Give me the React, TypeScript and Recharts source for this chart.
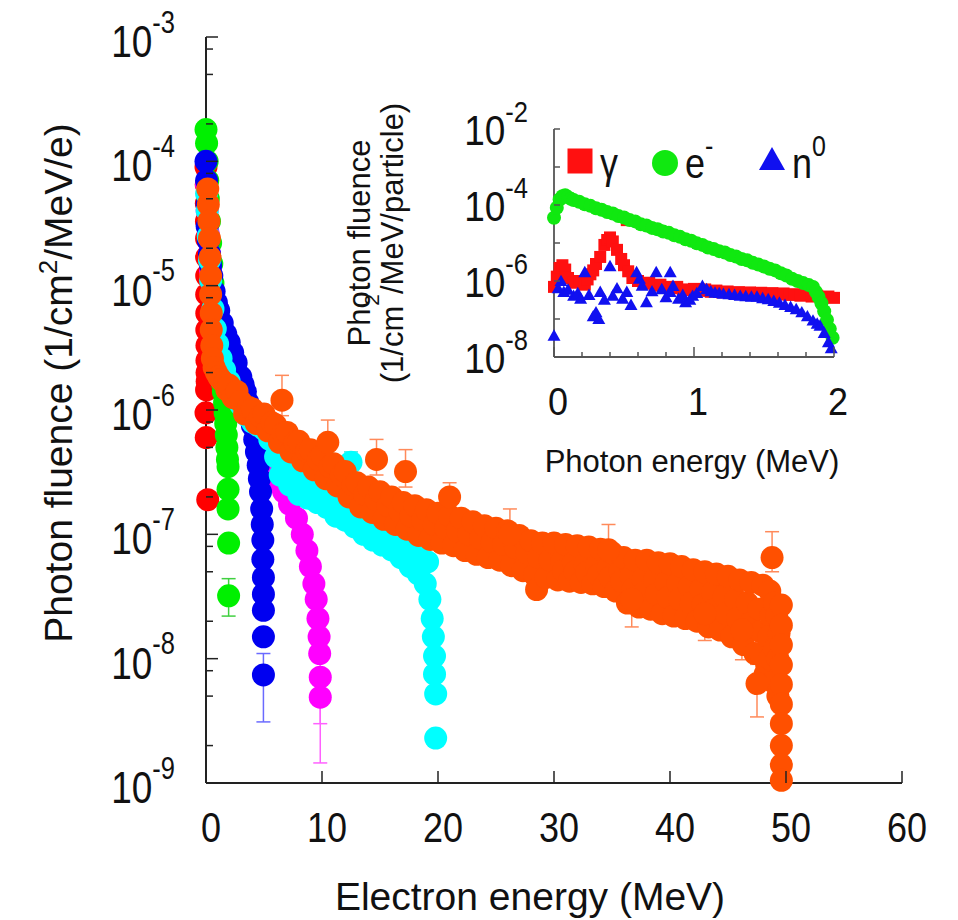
import React from "react";
import { ScatterChart, Scatter, XAxis, YAxis, ErrorBar, Legend } from "recharts";

type Pt = [number, number];
// energy, fluence, lower bound, upper bound
type ErrPt = [number, number, number, number];

const FONT = "'Liberation Sans', Arial, Helvetica, sans-serif";
const INK = "#111";
const AXIS = "#222";
const FRAME = "#555";

// ---- main plot: photon spectra per incident electron ----
const mainXTicks = [0, 10, 20, 30, 40, 50, 60];
const mainYDecades = [1e-9, 1e-8, 1e-7, 1e-6, 1e-5, 1e-4, 1e-3];

const redSpectrum: Pt[] = [
  [0.0, 9.0e-5], [0.02, 6.5e-5], [0.03, 4.6e-5], [0.04, 3.3e-5], [0.05, 2.4e-5],
  [0.05, 1.7e-5], [0.06, 1.2e-5], [0.06, 8.5e-6], [0.07, 6.0e-6], [0.07, 4.4e-6],
  [0.08, 3.3e-6], [0.08, 2.5e-6], [0.09, 2.0e-6], [0.1, 1.7e-6], [0.05, 1.45e-6],
  [0.0, 9.5e-7], [0.02, 6.0e-7], [0.15, 1.9e-7],
];

const greenSpectrum: Pt[] = [
  [0.0, 1.8e-4], [0.05, 1.4e-4], [0.1, 1.0e-4], [0.15, 7.0e-5], [0.2, 5.0e-5],
  [0.3, 3.3e-5], [0.4, 2.2e-5], [0.5, 1.5e-5], [0.6, 1.05e-5], [0.7, 7.5e-6],
  [0.8, 5.6e-6], [0.9, 4.3e-6], [1.0, 3.4e-6], [1.1, 2.8e-6], [1.2, 2.3e-6],
  [1.3, 1.95e-6], [1.4, 1.65e-6], [1.5, 1.4e-6], [1.6, 1.15e-6], [1.65, 9.5e-7],
  [1.7, 7.8e-7], [1.75, 6.3e-7], [1.8, 5.0e-7], [1.85, 4.0e-7], [1.9, 3.5e-7],
  [1.9, 2.3e-7], [1.9, 1.6e-7], [1.95, 8.5e-8],
];
const greenBars: ErrPt[] = [[1.95, 3.2e-8, 2.2e-8, 4.4e-8]];

const blueSpectrum: Pt[] = [
  [0.0, 1.0e-4], [0.05, 7.0e-5], [0.1, 4.5e-5], [0.1, 3.0e-5], [0.2, 2.3e-5],
  [0.3, 1.8e-5], [0.4, 1.45e-5], [0.5, 1.2e-5], [0.7, 9.0e-6], [0.9, 7.3e-6],
  [1.1, 6.3e-6], [1.4, 5.0e-6], [1.7, 4.1e-6], [2.0, 3.5e-6], [2.3, 2.9e-6],
  [2.6, 2.4e-6], [3.0, 1.85e-6], [3.2, 1.6e-6], [3.4, 1.4e-6], [3.6, 1.15e-6],
  [3.8, 9.2e-7], [4.0, 7.5e-7], [4.2, 5.8e-7], [4.35, 4.6e-7], [4.5, 3.6e-7],
  [4.6, 2.8e-7], [4.7, 2.2e-7], [4.8, 1.6e-7], [4.85, 1.2e-7], [4.9, 9.0e-8],
  [4.9, 6.3e-8], [4.95, 4.5e-8], [4.95, 3.3e-8], [4.95, 2.45e-8], [4.95, 1.5e-8],
];
const blueBars: ErrPt[] = [[4.95, 7.4e-9, 3.1e-9, 1.1e-8]];

const magentaSpectrum: Pt[] = [
  [0.05, 6.5e-5], [0.1, 4.0e-5], [0.2, 2.6e-5], [0.3, 1.8e-5], [0.4, 1.3e-5],
  [0.6, 8.5e-6], [0.8, 6.0e-6], [1.0, 4.5e-6], [1.3, 3.4e-6], [1.6, 2.7e-6],
  [2.0, 2.1e-6], [2.5, 1.6e-6], [3.0, 1.3e-6], [3.5, 1.0e-6], [4.0, 8.0e-7],
  [4.5, 6.2e-7], [5.0, 4.8e-7], [5.5, 3.8e-7], [6.0, 3.0e-7], [6.4, 2.5e-7],
  [6.7, 2.2e-7], [7.2, 1.75e-7], [7.8, 1.35e-7], [8.3, 1.0e-7], [8.7, 7.4e-8],
  [9.0, 5.5e-8], [9.3, 4.0e-8], [9.5, 3.0e-8], [9.65, 2.1e-8], [9.75, 1.5e-8],
  [9.8, 1.1e-8],
];
const magentaBars: ErrPt[] = [
  [9.85, 7.1e-9, 3.0e-9, 1.0e-8],
  [9.85, 4.9e-9, 1.45e-9, 1.2e-8],
];

const cyanSpectrum: Pt[] = [
  [0.05, 5.5e-5], [0.1, 4.0e-5], [0.2, 2.5e-5], [0.3, 1.6e-5], [0.4, 1.1e-5],
  [0.6, 6.5e-6], [0.8, 4.5e-6], [1.0, 3.4e-6], [1.3, 2.6e-6], [1.6, 2.1e-6],
  [2.0, 1.7e-6], [2.5, 1.35e-6], [3.0, 1.1e-6], [3.5, 9.0e-7], [4.0, 8.0e-7],
  [4.5, 7.5e-7], [5.0, 7.0e-7], [5.5, 5.8e-7], [6.0, 4.2e-7], [6.4, 3.0e-7],
  [6.8, 3.6e-7], [7.2, 2.5e-7], [7.6, 3.2e-7], [8.0, 2.1e-7], [8.4, 2.8e-7],
  [8.8, 1.95e-7], [9.2, 2.6e-7], [9.6, 1.8e-7], [10.0, 2.4e-7], [10.0, 4.5e-7],
  [10.4, 1.65e-7], [10.8, 2.2e-7], [11.2, 1.4e-7], [11.6, 2.0e-7], [12.0, 1.3e-7],
  [12.4, 1.8e-7], [12.8, 1.15e-7], [13.2, 1.6e-7], [13.6, 1.0e-7], [14.0, 1.45e-7],
  [14.4, 9.0e-8], [14.8, 1.3e-7], [15.2, 8.2e-8], [15.6, 1.15e-7], [16.0, 7.5e-8],
  [16.4, 1.0e-7], [16.8, 6.5e-8], [17.2, 9.0e-8], [17.6, 5.5e-8], [18.0, 7.5e-8],
  [18.3, 4.8e-8], [18.6, 6.2e-8], [18.9, 4.0e-8], [19.1, 6.0e-8], [19.3, 3.0e-8],
  [19.5, 2.1e-8], [19.6, 1.5e-8], [19.7, 1.05e-8], [19.7, 7.5e-9], [19.8, 5.2e-9],
  [19.8, 2.3e-9],
];
const cyanBars: ErrPt[] = [[12.5, 3.8e-7, 3.0e-7, 4.6e-7]];

const orangeSpectrum: Pt[] = [
  [0.15, 6.0e-5], [0.2, 4.5e-5], [0.25, 3.3e-5], [0.3, 2.4e-5], [0.35, 1.7e-5],
  [0.4, 1.2e-5], [0.4, 8.5e-6], [0.45, 6.0e-6], [0.45, 4.4e-6], [0.5, 3.3e-6],
  [0.55, 2.6e-6], [0.7, 2.2e-6], [0.9, 2.0e-6], [1.1, 1.85e-6], [1.3, 1.75e-6],
  [1.6, 1.65e-6], [1.8, 1.45e-6],
  [2, 1.58e-6], [2.33, 1.26e-6], [2.67, 1.41e-6],
  [3, 1.17e-6], [3.33, 9.3e-7], [3.67, 1.05e-6],
  [4, 1.02e-6], [4.33, 7.8e-7], [4.67, 8.9e-7],
  [5, 9.3e-7], [5.33, 6.8e-7], [5.67, 7.9e-7],
  [6, 7.6e-7], [6.33, 5.5e-7], [6.67, 6.5e-7],
  [7, 6.6e-7], [7.33, 4.6e-7], [7.67, 5.5e-7],
  [8, 5.6e-7], [8.33, 3.9e-7], [8.67, 4.7e-7],
  [9, 4.8e-7], [9.33, 3.3e-7], [9.67, 4.0e-7],
  [10, 4.3e-7], [10.33, 2.8e-7], [10.67, 3.5e-7],
  [11, 3.7e-7], [11.33, 2.45e-7], [11.67, 3.0e-7],
  [12, 3.2e-7], [12.33, 2.0e-7], [12.67, 2.5e-7],
  [13, 2.6e-7], [13.33, 1.66e-7], [13.67, 2.1e-7],
  [14, 2.4e-7], [14.33, 1.5e-7], [14.67, 1.9e-7],
  [15, 2.2e-7], [15.33, 1.32e-7], [15.67, 1.7e-7],
  [16, 2.0e-7], [16.33, 1.2e-7], [16.67, 1.55e-7],
  [17, 1.8e-7], [17.33, 1.1e-7], [17.67, 1.4e-7],
  [18, 1.7e-7], [18.33, 9.8e-8], [18.67, 1.3e-7],
  [19, 1.58e-7], [19.33, 9.1e-8], [19.67, 1.2e-7],
  [20, 1.48e-7], [20.33, 8.5e-8], [20.67, 1.12e-7],
  [21, 1.41e-7], [21.33, 8.1e-8], [21.67, 1.07e-7],
  [22, 1.35e-7], [22.33, 7.4e-8], [22.67, 1.0e-7],
  [23, 1.26e-7], [23.33, 6.9e-8], [23.67, 9.3e-8],
  [24, 1.17e-7], [24.33, 6.5e-8], [24.67, 8.7e-8],
  [25, 1.12e-7], [25.33, 6.2e-8], [25.67, 8.3e-8],
  [26, 1.07e-7], [26.33, 5.6e-8], [26.67, 7.8e-8],
  [27, 9.8e-8], [27.33, 5.1e-8], [27.67, 7.1e-8],
  [28, 8.9e-8], [28.33, 4.7e-8], [28.5, 3.6e-8], [28.67, 6.5e-8],
  [29, 8.5e-8], [29.33, 4.5e-8], [29.67, 6.2e-8],
  [30, 8.5e-8], [30.33, 4.3e-8], [30.67, 6.0e-8], [30.83, 5.1e-8],
  [31, 8.3e-8], [31.33, 4.2e-8], [31.67, 5.9e-8], [31.83, 5.0e-8],
  [32, 8.1e-8], [32.33, 4.1e-8], [32.67, 5.8e-8], [32.83, 4.9e-8],
  [33, 7.9e-8], [33.33, 4.0e-8], [33.67, 5.6e-8], [33.83, 4.7e-8],
  [34, 7.6e-8], [34.33, 3.8e-8], [34.67, 5.4e-8], [34.83, 4.5e-8],
  [35, 7.1e-8], [35.33, 3.5e-8], [35.67, 5.0e-8], [35.83, 4.2e-8],
  [36, 6.5e-8], [36.33, 2.8e-8], [36.67, 4.6e-8], [36.83, 3.6e-8],
  [37, 6.2e-8], [37.33, 2.6e-8], [37.67, 4.4e-8], [37.83, 3.4e-8],
  [38, 6.2e-8], [38.33, 2.5e-8], [38.67, 4.3e-8], [38.83, 3.3e-8],
  [39, 5.9e-8], [39.33, 2.3e-8], [39.67, 4.1e-8], [39.83, 3.1e-8],
  [40, 5.8e-8], [40.33, 2.2e-8], [40.67, 4.0e-8], [40.83, 3.0e-8],
  [41, 5.5e-8], [41.33, 2.1e-8], [41.67, 3.8e-8], [41.83, 2.8e-8],
  [42, 5.2e-8], [42.33, 2.0e-8], [42.67, 3.6e-8], [42.83, 2.7e-8],
  [43, 5.0e-8], [43.33, 1.8e-8], [43.67, 3.4e-8], [43.83, 2.5e-8],
  [44, 4.8e-8], [44.33, 1.7e-8], [44.67, 3.2e-8], [44.83, 2.3e-8],
  [45, 4.6e-8], [45.33, 1.5e-8], [45.67, 3.0e-8], [45.83, 2.1e-8],
  [46, 4.3e-8], [46.33, 1.3e-8], [46.67, 2.8e-8], [46.83, 1.9e-8],
  [47, 4.1e-8], [47.33, 1.1e-8], [47.67, 2.5e-8], [47.83, 1.65e-8],
  [48, 3.9e-8], [48.33, 9.0e-9], [48.67, 2.2e-8], [48.83, 1.4e-8],
  [47.8, 1.1e-8], [48.2, 7.5e-9], [48.5, 1.5e-8], [48.6, 1.0e-8],
  [48.9, 6.5e-9], [49.0, 1.2e-8],
  [48.6, 3.5e-8], [49.0, 2.8e-8], [49.2, 2.2e-8], [49.4, 1.6e-8],
  [49.3, 1.0e-8], [49.3, 5.0e-9],
  [49.6, 2.7e-8], [49.6, 1.86e-8], [49.6, 1.29e-8], [49.6, 8.9e-9], [49.6, 6.2e-9],
  [49.6, 4.3e-9], [49.6, 3.0e-9], [49.6, 2.0e-9], [49.6, 1.4e-9], [49.6, 1.05e-9],
];
const orangeBars: ErrPt[] = [
  [6.55, 1.2e-6, 9.0e-7, 1.9e-6],
  [10.5, 5.5e-7, 4.0e-7, 8.3e-7],
  [14.7, 4.0e-7, 3.0e-7, 5.8e-7],
  [17.2, 3.2e-7, 2.4e-7, 4.8e-7],
  [21.0, 2.0e-7, 1.5e-7, 2.6e-7],
  [26.2, 1.0e-7, 8.0e-8, 1.6e-7],
  [34.7, 7.5e-8, 6.0e-8, 1.2e-7],
  [36.7, 3.0e-8, 1.8e-8, 3.6e-8],
  [43.0, 2.3e-8, 1.4e-8, 2.8e-8],
  [46.2, 1.7e-8, 9.8e-9, 2.1e-8],
  [47.5, 6.3e-9, 3.4e-9, 9.0e-9],
  [48.8, 6.5e-8, 5.0e-8, 1.05e-7],
];

// ---- inset: photon spectra by particle type ----
const insetXTicks = [0, 0.2, 0.4, 0.6, 0.8, 1, 1.2, 1.4, 1.6, 1.8, 2];
const insetYDecades = [1e-8, 1e-7, 1e-6, 1e-5, 1e-4, 1e-3, 1e-2];
const insetNames = ["γ", "e-", "n0"];

const gammaSpectrum: Pt[] = [
  [0.0, 7.0e-7], [0.02, 1.3e-6], [0.04, 2.2e-6], [0.06, 2.6e-6], [0.08, 2.0e-6],
  [0.1, 1.2e-6], [0.14, 9.0e-7], [0.18, 1.0e-6], [0.22, 8.0e-7], [0.24, 1.1e-6],
  [0.26, 1.5e-6], [0.28, 1.9e-6], [0.3, 2.8e-6], [0.33, 4.3e-6], [0.36, 8.9e-6],
  [0.38, 1.2e-5], [0.4, 1.4e-5], [0.42, 1.1e-5], [0.45, 6.6e-6], [0.48, 3.8e-6],
  [0.5, 2.6e-6], [0.52, 4.0e-5], [0.53, 1.8e-6], [0.56, 1.2e-6], [0.6, 1.0e-6],
  [0.64, 8.5e-7], [0.68, 9.0e-7], [0.72, 7.5e-7], [0.76, 8.0e-7], [0.8, 7.0e-7],
  [0.84, 6.5e-7], [0.88, 7.0e-7], [0.92, 6.0e-7], [0.96, 5.8e-7], [1.0, 6.2e-7],
  [1.04, 5.5e-7], [1.08, 6.0e-7], [1.12, 5.2e-7], [1.16, 5.6e-7], [1.2, 5.0e-7],
  [1.24, 5.3e-7], [1.28, 4.8e-7], [1.32, 5.1e-7], [1.36, 4.7e-7], [1.4, 5.0e-7],
  [1.44, 4.6e-7], [1.48, 4.9e-7], [1.52, 4.5e-7], [1.56, 4.8e-7], [1.6, 4.4e-7],
  [1.64, 4.7e-7], [1.68, 4.3e-7], [1.72, 4.5e-7], [1.76, 4.1e-7], [1.8, 4.3e-7],
  [1.84, 3.9e-7], [1.88, 4.1e-7], [1.92, 3.7e-7], [1.96, 3.9e-7], [2.0, 3.6e-7],
];

const electronSpectrum: Pt[] = [
  [0.0, 4.6e-5], [0.02, 8.5e-5], [0.04, 1.4e-4], [0.06, 1.7e-4], [0.08, 1.8e-4],
  [0.1, 1.6e-4], [0.12, 1.45e-4], [0.14, 1.35e-4], [0.18, 1.22e-4], [0.22, 1.05e-4],
  [0.26, 9.5e-5], [0.3, 8.2e-5], [0.34, 7.5e-5], [0.38, 6.5e-5], [0.42, 6.0e-5],
  [0.46, 5.1e-5], [0.5, 4.7e-5], [0.54, 4.0e-5], [0.58, 3.7e-5], [0.62, 3.1e-5],
  [0.66, 2.9e-5], [0.7, 2.5e-5], [0.74, 2.3e-5], [0.78, 2.0e-5], [0.82, 1.85e-5],
  [0.86, 1.6e-5], [0.9, 1.45e-5], [0.94, 1.25e-5], [0.98, 1.15e-5], [1.02, 9.8e-6],
  [1.06, 8.9e-6], [1.1, 7.6e-6], [1.14, 7.0e-6], [1.18, 6.1e-6], [1.22, 5.6e-6],
  [1.26, 4.8e-6], [1.3, 4.4e-6], [1.34, 3.8e-6], [1.38, 3.5e-6], [1.42, 3.0e-6],
  [1.46, 2.7e-6], [1.5, 2.4e-6], [1.54, 2.1e-6], [1.58, 1.9e-6], [1.62, 1.6e-6],
  [1.66, 1.4e-6], [1.7, 1.15e-6], [1.74, 1.0e-6], [1.78, 8.8e-7], [1.82, 7.8e-7],
  [1.85, 7.0e-7], [1.87, 5.2e-7], [1.89, 3.8e-7], [1.91, 2.6e-7], [1.93, 1.6e-7],
  [1.95, 9.5e-8], [1.97, 5.5e-8], [1.99, 3.2e-8],
];

const neutronSpectrum: Pt[] = [
  [0.0, 3.4e-8], [0.03, 6.0e-7], [0.05, 9.3e-7], [0.07, 4.8e-7], [0.1, 5.5e-7],
  [0.14, 3.8e-7], [0.17, 4.5e-7], [0.19, 3.2e-7], [0.22, 1.6e-6], [0.25, 4.0e-7],
  [0.28, 1.1e-7], [0.3, 1.4e-7], [0.32, 9.3e-8], [0.33, 4.8e-7], [0.36, 3.0e-7],
  [0.4, 2.3e-6], [0.42, 3.8e-7], [0.45, 6.0e-7], [0.49, 3.2e-7], [0.52, 4.8e-7],
  [0.55, 2.2e-7], [0.59, 1.6e-6], [0.61, 1.07e-6], [0.63, 7.0e-7], [0.66, 2.6e-7],
  [0.7, 5.0e-7], [0.73, 1.6e-6], [0.77, 5.7e-7], [0.8, 3.5e-7], [0.83, 1.6e-6],
  [0.83, 4.8e-7], [0.85, 6.9e-7], [0.89, 3.2e-7], [0.92, 4.0e-7], [0.94, 2.6e-7],
  [0.97, 3.0e-7], [0.99, 3.8e-7], [1.02, 4.5e-7], [1.06, 6.9e-7], [1.09, 5.7e-7],
  [1.12, 5.0e-7], [1.15, 4.6e-7], [1.18, 4.5e-7], [1.21, 4.3e-7], [1.25, 4.2e-7],
  [1.29, 4.0e-7], [1.33, 3.8e-7], [1.37, 3.7e-7], [1.41, 3.6e-7], [1.45, 3.6e-7],
  [1.49, 3.3e-7], [1.53, 3.1e-7], [1.57, 2.8e-7], [1.61, 2.5e-7], [1.65, 2.2e-7],
  [1.69, 1.95e-7], [1.73, 1.7e-7], [1.77, 1.4e-7], [1.81, 1.1e-7], [1.85, 8.5e-8],
  [1.88, 7.0e-8], [1.9, 6.2e-8], [1.93, 4.0e-8], [1.96, 2.3e-8], [1.98, 1.6e-8],
];

// ---- helpers ----
const toRows = (pts: Pt[], bars: ErrPt[] = []) => [
  ...pts.map(([e, phi]) => ({ e, phi })),
  ...bars.map(([e, phi, lo, hi]) => ({ e, phi, err: [phi - lo, hi - phi] })),
];

const withMinors = (decades: number[]) => [
  ...decades,
  ...decades.slice(0, -1).flatMap((d) => [2 * d, 5 * d, 8 * d]),
];

const isDecade = (v: number) =>
  Math.abs(Math.log10(v) - Math.round(Math.log10(v))) < 1e-6;
const exponent = (v: number) => Math.round(Math.log10(v));

const dot = (r: number, fill: string) => (p: any) =>
  p.cx == null ? <g /> : <circle cx={p.cx} cy={p.cy} r={r} fill={fill} />;
const square = (s: number, fill: string) => (p: any) =>
  p.cx == null ? <g /> : <rect x={p.cx - s / 2} y={p.cy - s / 2} width={s} height={s} fill={fill} />;
const triangle = (s: number, fill: string) => (p: any) =>
  p.cx == null ? (
    <g />
  ) : (
    <polygon
      points={`${p.cx},${p.cy - s * 0.58} ${p.cx - s / 2},${p.cy + s * 0.3} ${p.cx + s / 2},${p.cy + s * 0.3}`}
      fill={fill}
    />
  );

function Power({ x, y, exp, size, stretch }: { x: number; y: number; exp: number; size: number; stretch: number }) {
  return (
    <text
      transform={`translate(${x},${y}) scale(1,${stretch})`}
      textAnchor="end"
      fontFamily={FONT}
      fontSize={size}
      fill={INK}
    >
      10
      <tspan dy={-size * 0.55} fontSize={size * 0.69}>
        {exp}
      </tspan>
    </text>
  );
}

// ---- main axis ticks (drawn inward) ----
function MainLeftTick({ x, y, payload }: any) {
  const major = isDecade(payload.value);
  return (
    <g>
      <line x1={x} x2={x + (major ? 12 : 7)} y1={y} y2={y} stroke={AXIS} strokeWidth={1.5} />
      {major && <Power x={x - 31} y={y + 20} exp={exponent(payload.value)} size={37} stretch={1.2} />}
    </g>
  );
}

function MainRightTick({ x, y, payload }: any) {
  const major = isDecade(payload.value);
  return <line x1={x} x2={x - (major ? 12 : 7)} y1={y} y2={y} stroke={FRAME} strokeWidth={1.5} />;
}

function MainBottomTick({ x, y, payload }: any) {
  return (
    <g>
      <line x1={x} x2={x} y1={y} y2={y - 12} stroke={AXIS} strokeWidth={1.5} />
      <text
        transform={`translate(${x + 5},${y + 59}) scale(1,1.2)`}
        textAnchor="middle"
        fontFamily={FONT}
        fontSize={36}
        fill={INK}
      >
        {payload.value}
      </text>
    </g>
  );
}

function MainTopTick({ x, y }: any) {
  return <line x1={x} x2={x} y1={y} y2={y + 12} stroke={FRAME} strokeWidth={1.5} />;
}

function MainXTitle({ viewBox }: any) {
  return (
    <text
      x={viewBox.x + viewBox.width / 2 - 24}
      y={viewBox.y + 127}
      textAnchor="middle"
      fontFamily={FONT}
      fontSize={39}
      fill={INK}
    >
      Electron energy (MeV)
    </text>
  );
}

function MainYTitle({ viewBox }: any) {
  const x = viewBox.x + 16;
  const y = viewBox.y + viewBox.height / 2 - 27;
  return (
    <text
      x={x}
      y={y}
      transform={`rotate(-90, ${x}, ${y})`}
      textAnchor="middle"
      fontFamily={FONT}
      fontSize={39}
      fill={INK}
    >
      Photon fluence (1/cm
      <tspan dy={-15} fontSize={26}>
        2
      </tspan>
      <tspan dy={15}>/MeV/e)</tspan>
    </text>
  );
}

// ---- inset axis ticks ----
function InsetLeftTick({ x, y, payload }: any) {
  const exp = exponent(payload.value);
  return (
    <g>
      <line x1={x} x2={x + 6} y1={y} y2={y} stroke={FRAME} strokeWidth={1.5} />
      {exp % 2 === 0 && <Power x={x - 26} y={y + 16} exp={exp} size={37} stretch={1.15} />}
    </g>
  );
}

function InsetRightTick({ x, y }: any) {
  return <line x1={x} x2={x - 7} y1={y} y2={y} stroke={FRAME} strokeWidth={1.5} />;
}

function InsetBottomTick({ x, y, payload }: any) {
  const whole = Number.isInteger(payload.value);
  return (
    <g>
      <line x1={x} x2={x} y1={y} y2={y - (whole ? 10 : 5)} stroke={FRAME} strokeWidth={1.5} />
      {whole && (
        <text
          transform={`translate(${x + 4},${y + 58}) scale(1,1.1)`}
          textAnchor="middle"
          fontFamily={FONT}
          fontSize={36}
          fill={INK}
        >
          {payload.value}
        </text>
      )}
    </g>
  );
}

function InsetTopTick({ x, y, payload }: any) {
  const whole = Number.isInteger(payload.value);
  return <line x1={x} x2={x} y1={y} y2={y + (whole ? 10 : 5)} stroke={FRAME} strokeWidth={1.5} />;
}

function InsetXTitle({ viewBox }: any) {
  return (
    <text
      x={viewBox.x + viewBox.width / 2 - 2}
      y={viewBox.y + 115}
      textAnchor="middle"
      fontFamily={FONT}
      fontSize={31}
      fill={INK}
    >
      Photon energy (MeV)
    </text>
  );
}

function InsetYTitle({ viewBox }: any) {
  const y = viewBox.y + viewBox.height / 2;
  const x1 = viewBox.x - 84;
  const x2 = viewBox.x - 51;
  return (
    <g fontFamily={FONT} fontSize={31} fill={INK}>
      <text x={x1} y={y} transform={`rotate(-90, ${x1}, ${y})`} textAnchor="middle">
        Photon fluence
      </text>
      <text x={x2} y={y} transform={`rotate(-90, ${x2}, ${y})`} textAnchor="middle">
        (1/cm
        <tspan dy={-24} fontSize={21}>
          2
        </tspan>
        <tspan dy={24}>/MeV/particle)</tspan>
      </text>
    </g>
  );
}

const legendX = [280, 365, 472];

function InsetLegend({ payload }: any) {
  return (
    <svg width={600} height={150} style={{ overflow: "visible" }}>
      {(payload || []).map((entry: any, i: number) => {
        const x = legendX[i];
        const cy = 101;
        const name = String(entry.value);
        const base = name.slice(0, 1);
        const sup = name.slice(1);
        let mark;
        if (entry.type === "square") {
          mark = <rect x={x - 12.5} y={cy - 12.5} width={25} height={25} fill={entry.color} />;
        } else if (entry.type === "circle") {
          mark = <circle cx={x} cy={cy + 2} r={13} fill={entry.color} />;
        } else {
          mark = (
            <polygon
              points={`${x},${cy - 14} ${x - 13},${cy + 9} ${x + 13},${cy + 9}`}
              fill={entry.color}
            />
          );
        }
        return (
          <g key={name}>
            {mark}
            <text
              transform={`translate(${x + 20},118) scale(1,1.2)`}
              fontFamily={FONT}
              fontSize={36}
              fill={INK}
            >
              {base}
              {sup && (
                <tspan dy={-18} fontSize={25}>
                  {sup}
                </tspan>
              )}
            </text>
          </g>
        );
      })}
    </svg>
  );
}

// magenta is laid down before blue so the 5 MeV column stays on top of it
const mainSeries = [
  { name: "red", pts: redSpectrum, bars: [] as ErrPt[], fill: "#ff0000", bar: "#ff7070" },
  { name: "green", pts: greenSpectrum, bars: greenBars, fill: "#00f000", bar: "#40d040" },
  { name: "magenta", pts: magentaSpectrum, bars: magentaBars, fill: "#ff00ff", bar: "#ff60ff" },
  { name: "blue", pts: blueSpectrum, bars: blueBars, fill: "#0000f0", bar: "#6a6aff" },
  { name: "cyan", pts: cyanSpectrum, bars: cyanBars, fill: "#00ffff", bar: "#40e0e0" },
  { name: "orange", pts: orangeSpectrum, bars: orangeBars, fill: "#ff5000", bar: "#ff8a5a" },
];

export default function App() {
  const mainYTicks = withMinors(mainYDecades);
  return (
    <div style={{ position: "absolute", left: 0, top: 0, width: 958, height: 920, background: "#fff" }}>
      <ScatterChart width={958} height={920} margin={{ top: 37, right: 56, bottom: 77, left: 56 }}>
        <XAxis
          dataKey="e"
          type="number"
          domain={[0, 60]}
          ticks={mainXTicks}
          interval={0}
          height={60}
          tickLine={false}
          tickSize={0}
          tickMargin={0}
          axisLine={{ stroke: AXIS, strokeWidth: 2 }}
          tick={(p: any) => <MainBottomTick {...p} />}
          label={{ content: (p: any) => <MainXTitle {...p} /> }}
        />
        <XAxis
          xAxisId="top"
          orientation="top"
          type="number"
          domain={[0, 60]}
          allowDataOverflow
          ticks={mainXTicks}
          interval={0}
          height={0}
          tickLine={false}
          tickSize={0}
          tickMargin={0}
          axisLine={{ stroke: FRAME, strokeWidth: 1.5 }}
          tick={(p: any) => <MainTopTick {...p} />}
        />
        <YAxis
          dataKey="phi"
          type="number"
          scale="log"
          domain={[1e-9, 1e-3]}
          ticks={mainYTicks}
          interval={0}
          width={150}
          tickLine={false}
          tickSize={0}
          tickMargin={0}
          axisLine={{ stroke: AXIS, strokeWidth: 2 }}
          tick={(p: any) => <MainLeftTick {...p} />}
          label={{ content: (p: any) => <MainYTitle {...p} /> }}
        />
        <YAxis
          yAxisId="right"
          orientation="right"
          type="number"
          scale="log"
          domain={[1e-9, 1e-3]}
          allowDataOverflow
          ticks={mainYTicks}
          interval={0}
          width={0}
          tickLine={false}
          tickSize={0}
          tickMargin={0}
          axisLine={{ stroke: FRAME, strokeWidth: 1.5 }}
          tick={(p: any) => <MainRightTick {...p} />}
        />
        {mainSeries.map((s) => (
          <Scatter
            key={s.name}
            name={s.name}
            data={toRows(s.pts, s.bars)}
            fill={s.fill}
            shape={dot(11.5, s.fill)}
            isAnimationActive={false}
          >
            <ErrorBar dataKey="err" direction="y" width={7} stroke={s.bar} strokeWidth={1.5} />
          </Scatter>
        ))}
      </ScatterChart>

      <div style={{ position: "absolute", left: 300, top: 60 }}>
        <ScatterChart width={600} height={440} margin={{ top: 69, right: 66, bottom: 83, left: 154 }}>
          <XAxis
            dataKey="e"
            type="number"
            domain={[0, 2]}
            ticks={insetXTicks}
            interval={0}
            height={60}
            tickLine={false}
            tickSize={0}
            tickMargin={0}
            axisLine={{ stroke: FRAME, strokeWidth: 1.8 }}
            tick={(p: any) => <InsetBottomTick {...p} />}
            label={{ content: (p: any) => <InsetXTitle {...p} /> }}
          />
          <XAxis
            xAxisId="top"
            orientation="top"
            type="number"
            domain={[0, 2]}
            allowDataOverflow
            ticks={insetXTicks}
            interval={0}
            height={0}
            tickLine={false}
            tickSize={0}
            tickMargin={0}
            axisLine={{ stroke: FRAME, strokeWidth: 1.8 }}
            tick={(p: any) => <InsetTopTick {...p} />}
          />
          <YAxis
            dataKey="phi"
            type="number"
            scale="log"
            domain={[1e-8, 1e-2]}
            ticks={insetYDecades}
            interval={0}
            width={100}
            tickLine={false}
            tickSize={0}
            tickMargin={0}
            axisLine={{ stroke: FRAME, strokeWidth: 1.8 }}
            tick={(p: any) => <InsetLeftTick {...p} />}
            label={{ content: (p: any) => <InsetYTitle {...p} /> }}
          />
          <YAxis
            yAxisId="right"
            orientation="right"
            type="number"
            scale="log"
            domain={[1e-8, 1e-2]}
            allowDataOverflow
            ticks={insetYDecades}
            interval={0}
            width={0}
            tickLine={false}
            tickSize={0}
            tickMargin={0}
            axisLine={{ stroke: FRAME, strokeWidth: 1.8 }}
            tick={(p: any) => <InsetRightTick {...p} />}
          />
          <Legend
            layout="horizontal"
            verticalAlign="middle"
            align="center"
            itemSorter={(item: any) => insetNames.indexOf(String(item.value))}
            wrapperStyle={{ left: 0, top: 0, width: 600, height: 150 }}
            content={(p: any) => <InsetLegend {...p} />}
          />
          <Scatter
            name={insetNames[0]}
            data={toRows(gammaSpectrum)}
            fill="#ff1010"
            legendType="square"
            shape={square(12, "#ff1010")}
            isAnimationActive={false}
          />
          <Scatter
            name={insetNames[1]}
            data={toRows(electronSpectrum)}
            fill="#10e810"
            legendType="circle"
            shape={dot(7, "#10e810")}
            isAnimationActive={false}
          />
          <Scatter
            name={insetNames[2]}
            data={toRows(neutronSpectrum)}
            fill="#1010f0"
            legendType="triangle"
            shape={triangle(13, "#1010f0")}
            isAnimationActive={false}
          />
        </ScatterChart>
      </div>
    </div>
  );
}
